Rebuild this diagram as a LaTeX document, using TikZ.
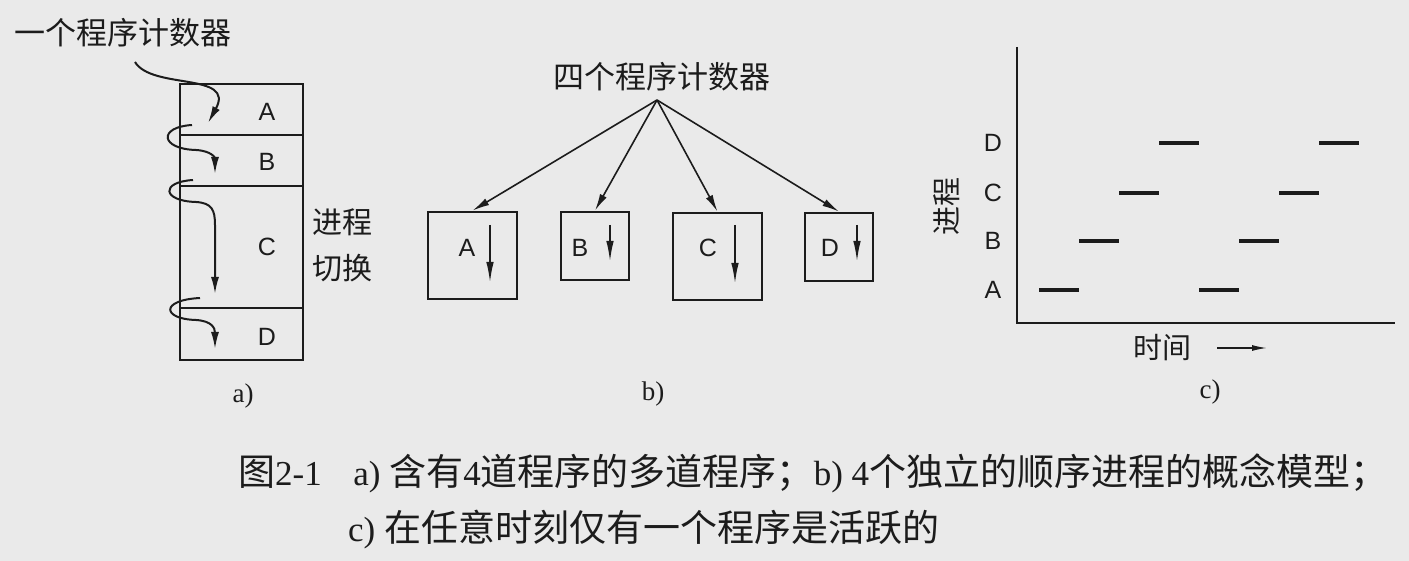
\documentclass[tikz,border=0pt]{standalone}
\usepackage{fontspec}
\setmainfont{Liberation Serif}
\setsansfont{Liberation Sans}
\newfontfamily\cjk{Noto Sans CJK SC}
\usetikzlibrary{arrows.meta,calc}
\definecolor{bgc}{RGB}{234,234,234}
\definecolor{ink}{RGB}{28,28,28}
\newcommand\capcjk[1]{{\cjk\fontsize{37}{37}\selectfont #1}}
\begin{document}
\begin{tikzpicture}[x=1pt,y=-1pt,
  every node/.style={inner sep=0pt, text=ink},
  seg/.style={draw=ink, line width=2.8pt, minimum width=123pt},
  pbox/.style={draw=ink, line width=2.8pt},
  lett/.style={font=\sffamily\fontsize{25}{25}\selectfont},
  cjkA/.style={font=\cjk\fontsize{31}{31}\selectfont},
  cjkB/.style={font=\cjk\fontsize{29}{29}\selectfont},
  sub/.style={font=\rmfamily\fontsize{27}{27}\selectfont},
  captxt/.style={font=\rmfamily\fontsize{35}{35}\selectfont, anchor=west},
  flow/.style={draw=ink, line width=2pt, -{Latex[length=17pt,width=8pt]}},
  fan/.style={draw=ink, line width=1.6pt, -{Latex[length=17pt,width=7.5pt]}},
  inarr/.style={draw=ink, line width=2pt, -{Latex[length=21pt,width=7.5pt]}},
  tarr/.style={draw=ink, line width=1.4pt, -{Latex[length=15pt,width=6pt]}},
  axis/.style={draw=ink, line width=2.8pt},
  bar/.style={draw=ink, line width=4.5pt},
]
\fill[bgc] (0,0) rectangle (1409,561);
\useasboundingbox (0,0) rectangle (1409,561);

% ---------- panel a ----------
\node[cjkA, anchor=west] (pc1) at (14,33) {一个程序计数器};
\node[seg, minimum height=51pt] (sa) at (241.5,109.5) {};
\node[seg, minimum height=51pt] (sb) at (241.5,160.5) {};
\node[seg, minimum height=122pt] (sc) at (241.5,247) {};
\node[seg, minimum height=52pt] (sd) at (241.5,334) {};
\node[lett] (la) at (267,112) {A};
\node[lett] (lb) at (267,162) {B};
\node[lett] (lc) at (267,247) {C};
\node[lett] (ld) at (267,337) {D};
\node[font=\cjk\fontsize{30}{30}\selectfont] (sw1) at (342,222) {进程};
\node[font=\cjk\fontsize{30}{30}\selectfont] (sw2) at (342,268) {切换};
\node[sub] (suba) at (243,396) {a)};

\coordinate (p0) at (135,62);
\coordinate (p1) at (208,123);
\coordinate (q0) at (192,125);
\coordinate (q1) at (215,174);
\coordinate (r0) at (193,180);
\coordinate (r1) at (215,294);
\coordinate (s0) at (200,298);
\coordinate (s1) at (215,349);
\draw[flow] (p0) .. controls (152,90) and (236,72) .. (p1);
\draw[flow] (q0) .. controls (158,127) and (160,149) .. (196,150)
            .. controls (212,151) and (215,158) .. (q1);
\draw[flow] (r0) .. controls (160,182) and (162,201) .. (196,202)
            .. controls (212,203) and (215,210) .. (215,225) -- (r1);
\draw[flow] (s0) .. controls (160,300) and (162,319) .. (196,320)
            .. controls (212,321) and (215,328) .. (s1);

% ---------- panel b ----------
\node[cjkA] (pc4) at (662,77) {四个程序计数器};
\coordinate (apex) at (657,100);
\node[pbox, minimum width=89pt, minimum height=87pt] (ba) at (472.5,255.5) {};
\node[pbox, minimum width=68pt, minimum height=68pt] (bb) at (595,246) {};
\node[pbox, minimum width=89pt, minimum height=87pt] (bc) at (717.5,256.5) {};
\node[pbox, minimum width=68pt, minimum height=68pt] (bd) at (839,247) {};
\draw[fan] (apex) -- (ba.north);
\draw[fan] (apex) -- (bb.north);
\draw[fan] (apex) -- (bc.north);
\draw[fan] (apex) -- (bd.north);
\node[lett] at (467,248) {A};
\node[lett] at (580,248) {B};
\node[lett] at (708,248) {C};
\node[lett] at (830,248) {D};
\draw[inarr] (490,225) -- (490,283);
\draw[inarr] (610,225) -- (610,262);
\draw[inarr] (735,225) -- (735,284);
\draw[inarr] (857,225) -- (857,262);
\node[sub] (subb) at (653,394) {b)};

% ---------- panel c ----------
\draw[axis] (1017,47) -- (1017,323) -- (1395,323);
\node[lett] at (993,143) {D};
\node[lett] at (993,193) {C};
\node[lett] at (993,241) {B};
\node[lett] at (993,290) {A};
\node[cjkB, rotate=90] (yl) at (947,207) {进程};
\draw[bar] (1039,290) -- (1079,290);
\draw[bar] (1079,241) -- (1119,241);
\draw[bar] (1119,193) -- (1159,193);
\draw[bar] (1159,143) -- (1199,143);
\draw[bar] (1199,290) -- (1239,290);
\draw[bar] (1239,241) -- (1279,241);
\draw[bar] (1279,193) -- (1319,193);
\draw[bar] (1319,143) -- (1359,143);
\node[cjkB] (tm) at (1162,348) {时间};
\coordinate (t0) at (1217,348);
\coordinate (t1) at (1267,348);
\draw[tarr] (t0) -- (t1);
\node[sub] (subc) at (1210,392) {c)};

% ---------- caption ----------
\node[captxt] (cap1) at (238,473) {\capcjk{图}2-1\hspace{0.9em}a) \capcjk{含有}4\capcjk{道程序的多道程序；}b) 4\capcjk{个独立的顺序进程的概念模型；}};
\node[captxt] (cap2) at (348,530) {c) \capcjk{在任意时刻仅有一个程序是活跃的}};
\end{tikzpicture}
\end{document}
